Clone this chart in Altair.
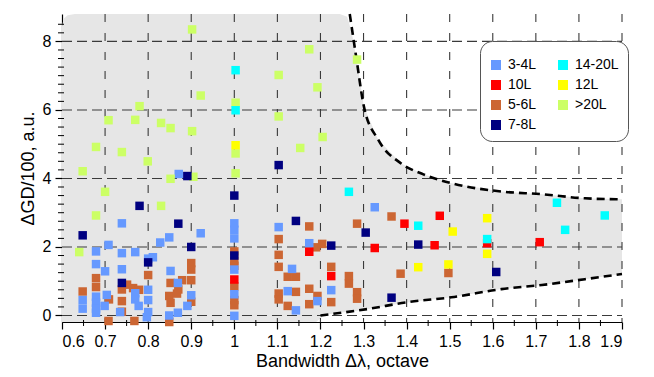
import altair as alt
import pandas as pd

FONT = "Liberation Sans"

# ---------------- data ----------------
categories = ["3-4L", "14-20L", "10L", "12L", "5-6L", ">20L", "7-8L"]
colors = ["#6699ff", "#00ffff", "#ff0000", "#ffff00", "#cc6633", "#ccff66", "#000080"]

pts_20plus = [(0.902, 8.35), (1.174, 7.77), (1.285, 7.47), (1.103, 7.02), (1.193, 6.66), (0.922, 6.42),
              (0.780, 6.11), (1.003, 6.21), (0.708, 5.70), (0.770, 5.71), (1.103, 5.81), (0.830, 5.62),
              (0.852, 5.47), (0.902, 5.38), (1.205, 5.21), (0.679, 4.92), (0.739, 4.77), (1.153, 4.89),
              (1.003, 4.73), (0.799, 4.50), (0.648, 4.21), (0.852, 3.99), (0.905, 4.05), (1.003, 4.15),
              (0.700, 3.61), (0.830, 3.20), (0.679, 2.92), (0.640, 1.85)]
pts_5_6 = [(0.648, 0.70), (0.679, 1.09), (0.679, 0.83), (0.709, 0.47), (0.708, -0.16), (0.739, 0.76),
           (0.739, 0.42), (0.739, 0.11), (0.751, 0.90), (0.765, 0.80), (0.779, 0.75), (0.768, -0.16),
           (0.800, 1.18), (0.852, 0.95), (0.870, 0.76), (0.849, 0.57), (0.852, 0.37), (0.849, -0.19),
           (0.867, 0.64), (0.879, 1.03), (0.900, 1.03), (0.900, 1.53), (0.900, 1.34), (0.900, 0.40),
           (1.0, 1.87), (1.0, 1.60), (1.0, 1.45), (1.0, 0.85), (1.0, 0.45), (1.0, 0.30),
           (1.103, 2.23), (1.103, 1.77), (1.103, 1.42), (1.103, 0.64), (1.103, 0.47), (1.124, 1.13),
           (1.143, 1.13), (1.143, 0.69), (1.124, 0.28), (1.174, 2.60), (1.174, 0.78), (1.174, 0.33),
           (1.193, 0.57), (1.190, 1.99), (1.204, 2.09), (1.225, 1.42), (1.225, 0.39), (1.266, 1.15),
           (1.266, 0.93), (1.285, 0.68), (1.285, 0.49), (1.285, 2.68), (1.365, 2.89), (1.386, 1.22),
           (1.497, 1.24)]
pts_3_4 = [(0.648, 0.45), (0.648, 0.20), (0.679, 1.87), (0.679, 1.50), (0.679, 0.55), (0.679, 0.37),
           (0.679, 0.20), (0.679, 0.08), (0.700, 1.29), (0.704, 0.60), (0.699, 0.28), (0.708, 2.06),
           (0.739, 2.69), (0.739, 1.82), (0.739, 1.35), (0.735, 0.10), (0.770, 1.85), (0.770, 0.65),
           (0.770, 0.47), (0.778, 0.28), (0.800, 1.66), (0.811, 1.70), (0.800, 0.75), (0.800, 0.45),
           (0.800, 0.10), (0.797, -0.05), (0.828, 2.13), (0.849, 2.28), (0.852, 1.30), (0.849, 0.00),
           (0.869, 0.95), (0.869, 0.08), (0.871, 4.13), (0.891, 0.28), (0.900, 0.59), (0.922, 2.40),
           (1.0, 2.69), (1.0, 2.50), (1.0, 2.25), (1.0, 1.34), (1.0, 0.62), (1.0, -0.01),
           (1.103, 2.58), (1.124, 0.71), (1.134, 1.36), (1.143, 0.15), (1.174, 2.11), (1.193, 0.42),
           (1.225, 0.74), (1.326, 3.16)]
pts_7_8 = [(0.648, 2.34), (0.780, 3.20), (0.870, 2.68), (0.891, 4.07), (0.900, 2.00), (1.0, 3.50),
           (1.103, 4.39), (1.143, 2.76), (1.225, 2.04), (1.305, 2.42), (1.427, 2.07), (1.365, 0.52),
           (1.608, 1.27), (0.739, 0.95), (0.800, 1.55), (1.0, 1.75)]
pts_10 = [(1.0, 1.05), (1.174, 1.86), (1.225, 1.15), (1.326, 1.97), (1.395, 2.68), (1.465, 2.05),
          (1.477, 2.91), (1.587, 2.11), (1.709, 2.14)]
pts_12 = [(1.003, 4.97), (1.427, 1.41), (1.497, 1.49), (1.507, 2.45), (1.587, 2.84), (1.587, 1.80)]
pts_14_20 = [(1.003, 7.16), (1.003, 5.99), (1.266, 3.61), (1.427, 2.62), (1.587, 2.23), (1.749, 3.29),
             (1.768, 2.50), (1.860, 2.92)]

# shaded region
region_x = [0.6, 0.604, 0.613, 0.63, 1.19, 1.21, 1.245, 1.262, 1.272, 1.283, 1.301, 1.334, 1.388,
            1.439, 1.504, 1.62, 1.714, 1.814, 1.9]
region_top = [8.45, 8.66, 8.76, 8.8, 8.8, 8.8, 8.8, 8.72, 8.3, 7.54, 6.09, 5.13, 4.43,
              4.12, 3.86, 3.62, 3.54, 3.42, 3.39]
region_bottom = [-0.19, -0.19, -0.19, -0.19, -0.19, 0.02, 0.08, 0.11, 0.12, 0.14, 0.17, 0.24, 0.36,
                 0.44, 0.53, 0.77, 0.89, 1.06, 1.21]

upper_x = [1.268, 1.283, 1.301, 1.334, 1.388, 1.439, 1.504, 1.62, 1.714, 1.814, 1.9]
upper_y = [8.8, 7.54, 6.09, 5.13, 4.43, 4.12, 3.86, 3.62, 3.54, 3.42, 3.39]
lower_x = [1.2, 1.31, 1.403, 1.504, 1.62, 1.714, 1.814, 1.9]
lower_y = [0.0, 0.19, 0.39, 0.53, 0.77, 0.89, 1.06, 1.21]

x_ticks = [0.6, 0.7, 0.8, 0.9, 1.0, 1.1, 1.2, 1.3, 1.4, 1.5, 1.6, 1.7, 1.8, 1.9]
x_minor = [0.65, 0.75, 0.85, 0.95, 1.05, 1.15, 1.25, 1.35, 1.45, 1.55, 1.65, 1.75, 1.85]
x_grid = [0.7, 0.8, 0.9, 1.0, 1.1, 1.2, 1.3, 1.4, 1.5, 1.6, 1.7, 1.8, 1.9]
y_ticks = [0, 2, 4, 6, 8]
y_minor = [0.25, 0.5, 0.75, 1.0, 1.25, 1.5, 1.75, 2.25, 2.5, 2.75, 3.0, 3.25, 3.5, 3.75,
           4.25, 4.5, 4.75, 5.0, 5.25, 5.5, 5.75, 6.25, 6.5, 6.75, 7.0, 7.25, 7.5, 7.75,
           8.25, 8.5]

# ---------------- build ----------------
W, H = 560, 308
Y_MIN, Y_MAX = -0.19, 8.8
xs = alt.Scale(domain=[0.6, 1.9], nice=False, zero=False)
ys = alt.Scale(domain=[Y_MIN, Y_MAX], nice=False, zero=False)
xa = alt.Axis(values=x_ticks, format="~g", title="Bandwidth Δλ, octave", grid=False,
              tickSize=7, labelPadding=4, titlePadding=3)
ya = alt.Axis(values=y_ticks, format="d", title="ΔGD/100, a.u.", grid=False,
              tickSize=7, labelPadding=4, titlePadding=5)

series = [("5-6L", pts_5_6), ("3-4L", pts_3_4), (">20L", pts_20plus), ("7-8L", pts_7_8),
          ("10L", pts_10), ("12L", pts_12), ("14-20L", pts_14_20)]
rows = []
for name, pts in series:
    for (a, b) in pts:
        rows.append({"x": a, "y": b, "series": name})
points_df = pd.DataFrame(rows)

region_df = pd.DataFrame({"x": region_x, "top": region_top, "bottom": region_bottom})

area = alt.Chart(region_df).mark_area(color="#e6e6e6", interpolate="linear").encode(
    x=alt.X("x:Q", scale=xs, axis=xa),
    y=alt.Y("top:Q", scale=ys, axis=ya),
    y2="bottom:Q",
)

grid_h = alt.Chart(pd.DataFrame({"y": y_ticks})).mark_rule(
    color="#3a3a3a", strokeWidth=1.1, strokeDash=[10, 5]).encode(
    y=alt.Y("y:Q", scale=ys, axis=ya), x=alt.value(0), x2=alt.value(W))

grid_v = alt.Chart(pd.DataFrame({"x": x_grid})).mark_rule(
    color="#3a3a3a", strokeWidth=1.1, strokeDash=[8, 11]).encode(
    x=alt.X("x:Q", scale=xs, axis=xa), y=alt.value(0), y2=alt.value(H))

minor_x = alt.Chart(pd.DataFrame({"x": x_minor})).mark_rule(color="black", strokeWidth=1).encode(
    x=alt.X("x:Q", scale=xs, axis=xa), y=alt.value(H - 2), y2=alt.value(H + 4))

minor_y = alt.Chart(pd.DataFrame({"y": y_minor})).mark_rule(color="black", strokeWidth=1).encode(
    y=alt.Y("y:Q", scale=ys, axis=ya), x=alt.value(-4), x2=alt.value(2))

upper = alt.Chart(pd.DataFrame({"x": upper_x, "y": upper_y})).mark_line(
    color="black", strokeWidth=2.6, strokeDash=[8, 5], interpolate="monotone").encode(
    x=alt.X("x:Q", scale=xs, axis=xa), y=alt.Y("y:Q", scale=ys, axis=ya))

lower = alt.Chart(pd.DataFrame({"x": lower_x, "y": lower_y})).mark_line(
    color="black", strokeWidth=2.6, strokeDash=[8, 5], interpolate="monotone").encode(
    x=alt.X("x:Q", scale=xs, axis=xa), y=alt.Y("y:Q", scale=ys, axis=ya))

pts = alt.Chart(points_df).mark_square(size=72, opacity=1).encode(
    x=alt.X("x:Q", scale=xs, axis=xa),
    y=alt.Y("y:Q", scale=ys, axis=ya),
    color=alt.Color("series:N", scale=alt.Scale(domain=categories, range=colors),
                    legend=alt.Legend(
                        title=" ", titleFontSize=8, titlePadding=0,
                        orient="none", legendX=418, legendY=27, columns=2,
                        direction="horizontal", gridAlign="all",
                        symbolType="square", symbolSize=100, symbolStrokeWidth=0,
                        labelFontSize=14, labelFont=FONT, labelColor="black",
                        fillColor="white", strokeColor="#555555", cornerRadius=12,
                        padding=9, rowPadding=6, columnPadding=4, labelOffset=5)),
)

chart = alt.layer(area, grid_h, grid_v, minor_x, minor_y, upper, lower, pts).properties(
    width=W, height=H, padding={"left": 11, "top": 0, "right": 5, "bottom": 2}
).configure_view(strokeWidth=0).configure_axis(
    domainColor="black", tickColor="black", labelColor="black", titleColor="black",
    labelFont=FONT, titleFont=FONT, labelFontSize=16, titleFontSize=18,
    titleFontWeight="normal", domainWidth=1.2, tickWidth=1.2,
)

chart.save("out.html", embed_options={"renderer": "svg", "actions": False})
